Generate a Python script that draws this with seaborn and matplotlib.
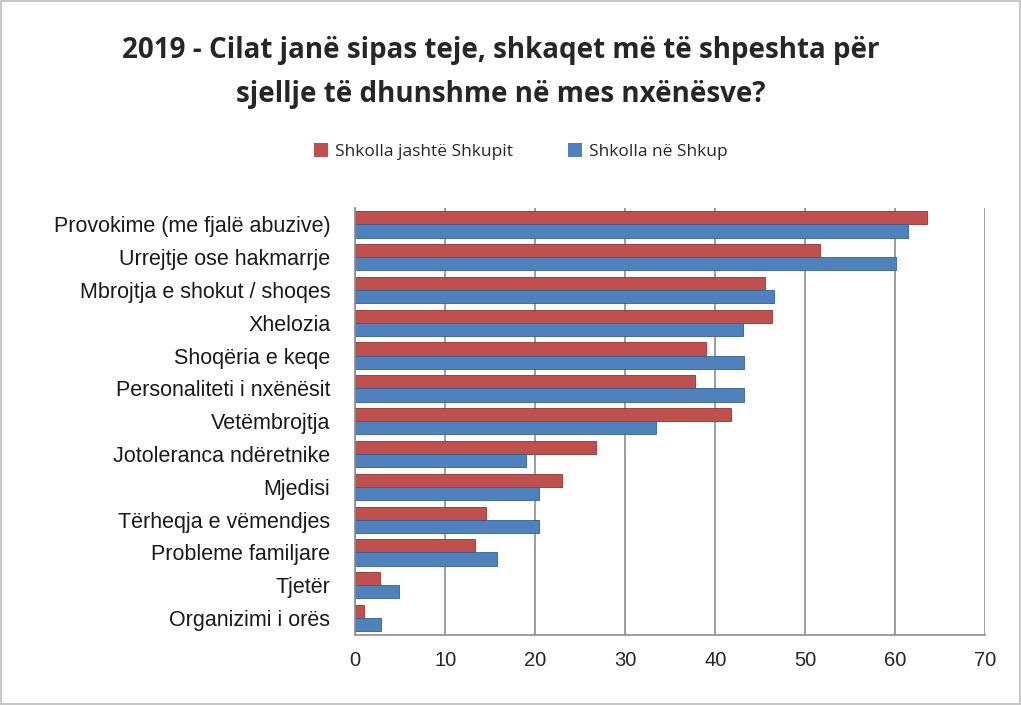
import pandas as pd
import numpy as np
import matplotlib.pyplot as plt
import seaborn as sns
from matplotlib.patches import Patch

# data
categories = ["Provokime (me fjalë abuzive)", "Urrejtje ose hakmarrje",
              "Mbrojtja e shokut / shoqes", "Xhelozia", "Shoqëria e keqe",
              "Personaliteti i nxënësit", "Vetëmbrojtja", "Jotoleranca ndëretnike",
              "Mjedisi", "Tërheqja e vëmendjes", "Probleme familjare",
              "Tjetër", "Organizimi i orës"]
jashte_shkupit = [63.5, 51.6, 45.5, 46.3, 39.0, 37.7, 41.8, 26.8, 23.0, 14.5, 13.3, 2.7, 1.0]
ne_shkup = [61.4, 60.1, 46.5, 43.1, 43.2, 43.2, 33.4, 19.0, 20.4, 20.4, 15.8, 4.8, 2.8]
series = ["Shkolla jashtë Shkupit", "Shkolla në Shkup"]
colors = ["#C0504D", "#4F81BD"]
xticks = [0, 10, 20, 30, 40, 50, 60, 70]

df = pd.DataFrame({
    "Kategoria": categories * 2,
    "Vlera": jashte_shkupit + ne_shkup,
    "Seria": [series[0]] * len(categories) + [series[1]] * len(categories),
})

sns.set_style("white")
plt.rcParams['font.family'] = ['Liberation Sans', 'DejaVu Sans']

fig = plt.figure(figsize=(10.21, 7.05), dpi=100)
fig.patch.set_edgecolor("#c8c8c8")
fig.patch.set_linewidth(1.5)
ax = fig.add_axes([0.348, 0.10, 0.617, 0.605])

sns.barplot(data=df, x="Vlera", y="Kategoria", hue="Seria", hue_order=series,
            palette=colors, saturation=1, orient="h", width=0.8, ax=ax,
            legend=False, edgecolor="none")
for bars, c in zip(ax.containers, ["#8f3432", "#35608f"]):
    for b in bars:
        b.set_edgecolor(c)
        b.set_linewidth(0.6)

ax.set_xlim(0, 70)
ax.set_xticks(xticks)
ax.set_ylim(len(categories) - 0.5, -0.5)
ax.set_xlabel("")
ax.set_ylabel("")
ax.xaxis.grid(True, color="#8c8c8c", linewidth=1.2)
ax.set_axisbelow(True)
ax.tick_params(axis="x", labelsize=14.5, length=0, pad=12, colors="#262626")
ax.tick_params(axis="y", labelsize=15.5, length=0, pad=18, colors="#1a1a1a")
ax.set_yticks(np.arange(-0.5, len(categories)), minor=True)
ax.tick_params(axis="y", which="minor", length=5, color="#8c8c8c", width=1.2)
for s in ["top", "right"]:
    ax.spines[s].set_visible(False)
for s in ["left", "bottom"]:
    ax.spines[s].set_color("#8c8c8c")
    ax.spines[s].set_linewidth(1.2)

fig.text(0.49, 0.897, "2019 - Cilat janë sipas teje, shkaqet më të shpeshta për\nsjellje të dhunshme në mes nxënësve?",
         ha="center", va="center", fontsize=20, fontweight="bold",
         family=["Open Sans", "DejaVu Sans"], linespacing=1.65)

handles = [Patch(facecolor=c, edgecolor="none") for c in colors]
fig.legend(handles, series, loc="center", bbox_to_anchor=(0.51, 0.785), ncol=2,
           frameon=False, handlelength=0.8, handleheight=0.8,
           handletextpad=0.4, columnspacing=3.2, prop={"family": "Open Sans", "size": 12.5})

fig.savefig("out.png", dpi=100)
